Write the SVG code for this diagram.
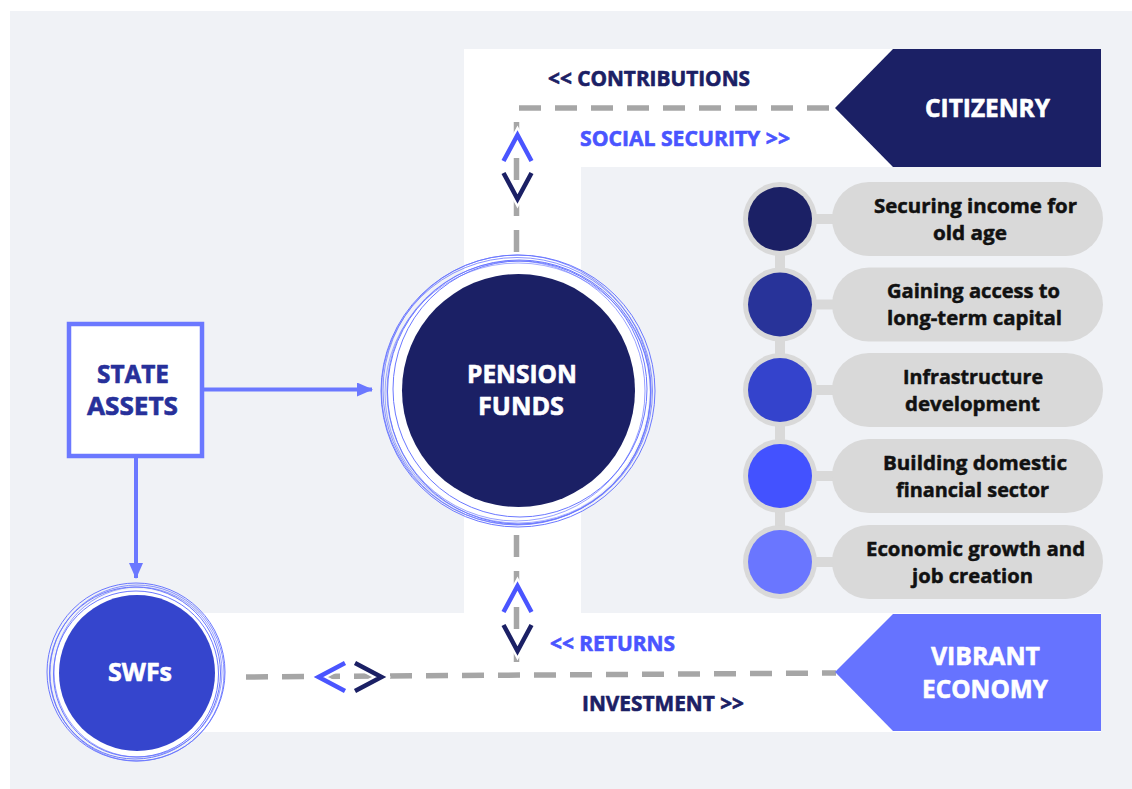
<svg xmlns="http://www.w3.org/2000/svg" width="1132" height="789" viewBox="0 0 1132 789">
  <defs>
    <style>
      .t { font-family: "Open Sans", "Liberation Sans", sans-serif; font-weight: 700; stroke-width: 0.6; stroke-linejoin: round; }
      .head { font-size: 21px; }
      .big { font-size: 25px; fill: #ffffff; stroke: #ffffff; }
      .navy { fill: #1b2065; stroke: #1b2065; }
      .blue { fill: #4a55ff; stroke: #4a55ff; }
      .item { font-size: 20px; fill: #111111; stroke: #111111; stroke-width: 0.5; }
      .asset { font-size: 25px; fill: #27309a; stroke: #27309a; }
      .dash { stroke: #a6a6a6; stroke-width: 5.5; fill: none; stroke-dasharray: 22 14; }
      .ring { fill: none; stroke: #6b78ff; stroke-width: 1; }
      .pill { fill: #d9d9d9; }
      .chev { fill: none; stroke-width: 4.5; stroke-linecap: butt; stroke-linejoin: miter; }
      .halo { fill: none; stroke: #ffffff; stroke-width: 9; }
      .arrow { stroke: #6b78ff; stroke-width: 4; fill: none; }
    </style>
    <marker id="head" viewBox="0 0 16 14" refX="15" refY="7" markerWidth="16" markerHeight="14" markerUnits="userSpaceOnUse" orient="auto">
      <path d="M0,0 L16,7 L0,14 Z" fill="#6b78ff"/>
    </marker>
  </defs>

  <!-- page -->
  <rect x="0" y="0" width="1132" height="789" fill="#ffffff"/>
  <rect x="10" y="11" width="1122" height="778" fill="#f0f2f6"/>

  <!-- white flow band -->
  <path d="M464,49 H1101 V167 H581 V613 H1101 V732 H180 V613 H464 Z" fill="#ffffff"/>

  <!-- connectors -->
  <g id="connectors">
    <line class="dash" x1="519" y1="108" x2="836" y2="108"/>
    <line class="dash" x1="516.5" y1="122" x2="516.5" y2="262"/>
    <line class="dash" x1="516.5" y1="535" x2="516.5" y2="662"/>
    <line class="dash" x1="240" y1="677" x2="836" y2="673" stroke-dashoffset="-6"/>

    <line class="arrow" x1="204" y1="389.5" x2="372" y2="389.5" marker-end="url(#head)"/>
    <line class="arrow" x1="136" y1="458" x2="136" y2="578" marker-end="url(#head)"/>

    <!-- direction chevrons -->
    <polyline class="halo" points="503.5,161 517.5,135 531.5,161"/>
    <polyline class="chev" stroke="#4a55ff" points="503.5,161 517.5,135 531.5,161"/>
    <polyline class="halo" points="503.5,173 517.5,199 531.5,173"/>
    <polyline class="chev" stroke="#1b2065" points="503.5,173 517.5,199 531.5,173"/>

    <polyline class="halo" points="503.5,612 517.5,586 531.5,612"/>
    <polyline class="chev" stroke="#4a55ff" points="503.5,612 517.5,586 531.5,612"/>
    <polyline class="halo" points="503.5,625 517.5,651 531.5,625"/>
    <polyline class="chev" stroke="#1b2065" points="503.5,625 517.5,651 531.5,625"/>

    <polyline class="halo" points="345,663 318.5,677 345,691"/>
    <polyline class="chev" stroke="#4a55ff" points="345,663 318.5,677 345,691"/>
    <polyline class="halo" points="355,663 381.5,677 355,691"/>
    <polyline class="chev" stroke="#1b2065" points="355,663 381.5,677 355,691"/>
  </g>

  <!-- flow labels -->
  <g id="flow-labels" class="t head">
    <text class="navy" x="548" y="86" textLength="202" lengthAdjust="spacingAndGlyphs">&lt;&lt; CONTRIBUTIONS</text>
    <text class="blue" x="580" y="146" textLength="210" lengthAdjust="spacingAndGlyphs">SOCIAL SECURITY &gt;&gt;</text>
    <text class="blue" x="550" y="651" textLength="125" lengthAdjust="spacingAndGlyphs">&lt;&lt; RETURNS</text>
    <text class="navy" x="582" y="711" textLength="162" lengthAdjust="spacingAndGlyphs">INVESTMENT &gt;&gt;</text>
  </g>

  <!-- citizenry -->
  <g id="citizenry">
    <polygon points="835,108 893,49 1101,49 1101,167 893,167" fill="#1b2065"/>
    <text class="t big" x="925" y="117" textLength="125" lengthAdjust="spacingAndGlyphs">CITIZENRY</text>
  </g>

  <!-- vibrant economy -->
  <g id="vibrant-economy">
    <polygon points="835,672 893,614 1101,614 1101,731 893,731" fill="#6673ff"/>
    <text class="t big" x="931" y="665" textLength="109" lengthAdjust="spacingAndGlyphs">VIBRANT</text>
    <text class="t big" x="922" y="698" textLength="126" lengthAdjust="spacingAndGlyphs">ECONOMY</text>
  </g>

  <!-- state assets -->
  <g id="state-assets">
    <rect x="69" y="324" width="133" height="132" fill="#ffffff" stroke="#6b78ff" stroke-width="4.5"/>
    <text class="t asset" x="97" y="383" textLength="72" lengthAdjust="spacingAndGlyphs">STATE</text>
    <text class="t asset" x="87" y="415" textLength="91" lengthAdjust="spacingAndGlyphs">ASSETS</text>
  </g>

  <!-- pension funds -->
  <g id="pension-funds">
    <circle cx="518" cy="391" r="131" fill="#ffffff"/>
    <ellipse class="ring" cx="518" cy="391" rx="137" ry="136"/>
    <ellipse class="ring" cx="517" cy="390" rx="134" ry="135" opacity="0.8"/>
    <ellipse class="ring" cx="519" cy="392" rx="131.5" ry="132"/>
    <ellipse class="ring" cx="516" cy="391" rx="129" ry="130" opacity="0.7"/>
    <ellipse class="ring" cx="520" cy="389" rx="127" ry="128"/>
    <ellipse class="ring" cx="518" cy="393" rx="133" ry="130" opacity="0.6"/>
    <ellipse class="ring" cx="517" cy="391" rx="135.5" ry="133.5" opacity="0.8"/>
    <circle cx="518.5" cy="390.5" r="116.5" fill="#1b2065"/>
    <text class="t big" x="467" y="383" textLength="110" lengthAdjust="spacingAndGlyphs">PENSION</text>
    <text class="t big" x="478" y="415" textLength="86" lengthAdjust="spacingAndGlyphs">FUNDS</text>
  </g>

  <!-- sovereign wealth funds -->
  <g id="swfs">
    <circle cx="137" cy="673" r="84" fill="#ffffff"/>
    <ellipse class="ring" cx="136" cy="672" rx="89" ry="89"/>
    <ellipse class="ring" cx="137" cy="673" rx="87" ry="88" opacity="0.8"/>
    <ellipse class="ring" cx="135" cy="673" rx="85.5" ry="86"/>
    <ellipse class="ring" cx="138" cy="672" rx="84" ry="85" opacity="0.7"/>
    <ellipse class="ring" cx="136" cy="674" rx="82.5" ry="83"/>
    <circle cx="137" cy="673" r="78" fill="#3545cd"/>
    <text class="t big" x="108" y="681" textLength="64" lengthAdjust="spacingAndGlyphs">SWFs</text>
  </g>

  <!-- benefit list -->
  <g id="benefit-spine">
    <rect x="775" y="219" width="10" height="343" fill="#d9d9d9"/>
  </g>

  <g id="benefit-1">
    <rect x="812" y="214" width="24" height="10" fill="#d9d9d9"/>
    <rect class="pill" x="832" y="182" width="271" height="74" rx="37"/>
    <circle cx="780" cy="219" r="37" fill="#d9d9d9"/>
    <circle cx="780" cy="219" r="32" fill="#1b2065"/>
    <text class="t item" x="874" y="212.5" textLength="203" lengthAdjust="spacingAndGlyphs">Securing income for</text>
    <text class="t item" x="933" y="239.5" textLength="74" lengthAdjust="spacingAndGlyphs">old age</text>
  </g>

  <g id="benefit-2">
    <rect x="812" y="299.5" width="24" height="10" fill="#d9d9d9"/>
    <rect class="pill" x="832" y="267.5" width="271" height="74" rx="37"/>
    <circle cx="780" cy="304.5" r="37" fill="#d9d9d9"/>
    <circle cx="780" cy="304.5" r="32" fill="#283399"/>
    <text class="t item" x="887" y="298" textLength="173" lengthAdjust="spacingAndGlyphs">Gaining access to</text>
    <text class="t item" x="887" y="325" textLength="175" lengthAdjust="spacingAndGlyphs">long-term capital</text>
  </g>

  <g id="benefit-3">
    <rect x="812" y="385" width="24" height="10" fill="#d9d9d9"/>
    <rect class="pill" x="832" y="353" width="271" height="74" rx="37"/>
    <circle cx="780" cy="390" r="37" fill="#d9d9d9"/>
    <circle cx="780" cy="390" r="32" fill="#3443cc"/>
    <text class="t item" x="903" y="383.5" textLength="140" lengthAdjust="spacingAndGlyphs">Infrastructure</text>
    <text class="t item" x="905" y="410.5" textLength="135" lengthAdjust="spacingAndGlyphs">development</text>
  </g>

  <g id="benefit-4">
    <rect x="812" y="471" width="24" height="10" fill="#d9d9d9"/>
    <rect class="pill" x="832" y="439" width="271" height="74" rx="37"/>
    <circle cx="780" cy="476" r="37" fill="#d9d9d9"/>
    <circle cx="780" cy="476" r="32" fill="#4352ff"/>
    <text class="t item" x="883" y="469.5" textLength="184" lengthAdjust="spacingAndGlyphs">Building domestic</text>
    <text class="t item" x="896" y="496.5" textLength="153" lengthAdjust="spacingAndGlyphs">financial sector</text>
  </g>

  <g id="benefit-5">
    <rect x="812" y="557" width="24" height="10" fill="#d9d9d9"/>
    <rect class="pill" x="832" y="525" width="271" height="74" rx="37"/>
    <circle cx="780" cy="562" r="37" fill="#d9d9d9"/>
    <circle cx="780" cy="562" r="32" fill="#6a76ff"/>
    <text class="t item" x="866" y="555.5" textLength="219" lengthAdjust="spacingAndGlyphs">Economic growth and</text>
    <text class="t item" x="912" y="582.5" textLength="121" lengthAdjust="spacingAndGlyphs">job creation</text>
  </g>
</svg>
